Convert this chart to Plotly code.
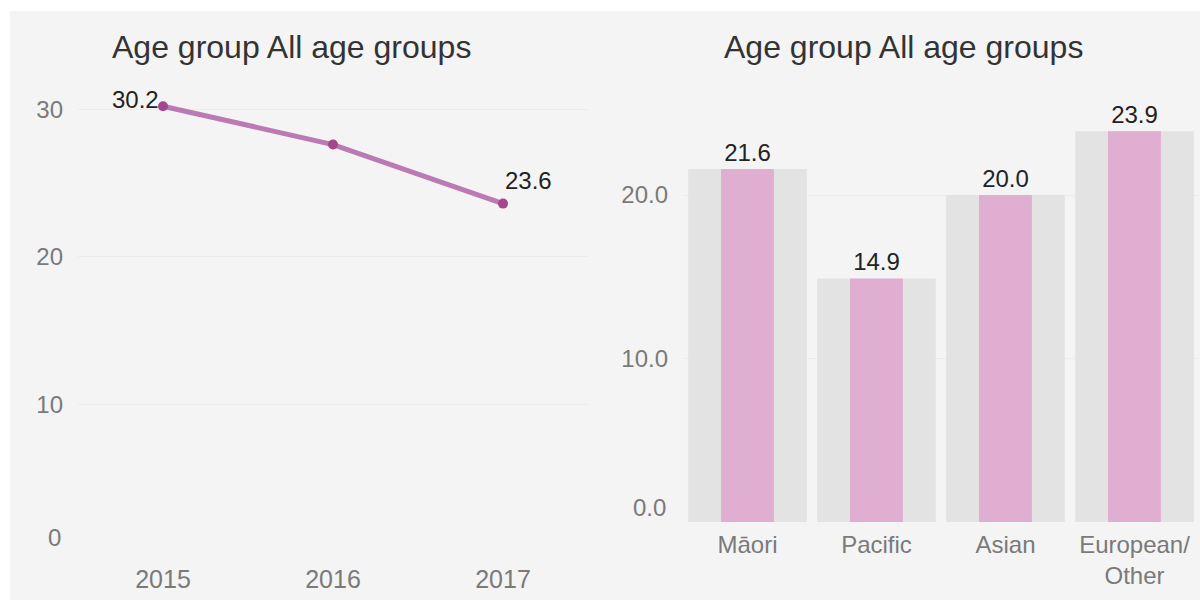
import plotly.graph_objects as go

W, H = 1200, 602

# ---- data ----
years = ["2015", "2016", "2017"]
rates = [30.2, 27.6, 23.6]
labelled_points = [0, 2]  # indices of points that carry a value label

groups = ["Māori", "Pacific", "Asian", "European/<br>Other"]
group_rates = [21.6, 14.9, 20.0, 23.9]

title_text = "Age group All age groups"
left_ticks = [10, 20, 30]
right_ticks = [10, 20]
right_ticktext = ["10.0", "20.0"]

FONT = "Liberation Sans, Arial, Helvetica, sans-serif"
TICK_COL = "#7a7a7a"
PINK = "#e0aed1"
GREYBAR = "#e3e3e3"
LINE_COL = "rgba(168,82,158,0.75)"
MARK_COL = "#a5468f"


def px_x(p):
    return p / W


def px_y(p):
    return 1 - p / H


fig = go.Figure()

fig.add_trace(go.Scatter(
    x=years, y=rates, mode="lines+markers",
    line=dict(color=LINE_COL, width=5),
    marker=dict(color=MARK_COL, size=10),
    xaxis="x", yaxis="y", cliponaxis=False, hoverinfo="skip",
))

fig.add_trace(go.Bar(
    x=groups, y=group_rates, width=0.92, marker=dict(color=GREYBAR, line=dict(width=0)),
    xaxis="x2", yaxis="y2", hoverinfo="skip",
))
fig.add_trace(go.Bar(
    x=groups, y=group_rates, width=0.41, marker=dict(color=PINK, line=dict(width=0)),
    text=[f"{v:.1f}" for v in group_rates], textposition="outside",
    textfont=dict(size=24, color="#222222", family=FONT),
    xaxis="x2", yaxis="y2", cliponaxis=False, hoverinfo="skip",
))

axis_common = dict(showline=False, zeroline=False, ticks="", fixedrange=True)

annotations = [
    dict(text=title_text, x=px_x(110), y=px_y(47), xref="paper", yref="paper",
         xanchor="left", yanchor="middle", showarrow=False,
         font=dict(size=32, color="#333333", family=FONT)),
    dict(text=title_text, x=px_x(722), y=px_y(47), xref="paper", yref="paper",
         xanchor="left", yanchor="middle", showarrow=False,
         font=dict(size=32, color="#333333", family=FONT)),
    dict(text="0", x=px_x(63), y=px_y(537), xref="paper", yref="paper",
         xanchor="right", yanchor="middle", showarrow=False,
         font=dict(size=24, color=TICK_COL, family=FONT)),
    dict(text="0.0", x=px_x(668), y=px_y(507), xref="paper", yref="paper",
         xanchor="right", yanchor="middle", showarrow=False,
         font=dict(size=24, color=TICK_COL, family=FONT)),
]

# value labels on the line (first to the left of the point, last to the right)
for k, i in enumerate(labelled_points):
    first = (k == 0)
    annotations.append(dict(
        text=f"{rates[i]:.1f}", x=i, y=rates[i], xref="x", yref="y",
        xanchor="right" if first else "left",
        yanchor="middle" if first else "bottom",
        xshift=-2 if first else 0, yshift=7 if first else 8,
        showarrow=False, font=dict(size=24, color="#222222", family=FONT)))

fig.update_layout(
    width=W, height=H,
    margin=dict(l=0, r=0, t=0, b=0),
    paper_bgcolor="#f4f4f4",
    plot_bgcolor="rgba(0,0,0,0)",
    showlegend=False,
    barmode="overlay",
    font=dict(family=FONT, color=TICK_COL),
    xaxis=dict(domain=[px_x(78), px_x(588)], range=[-0.5, 2.5], type="category",
               showgrid=False, tickfont=dict(size=25, color=TICK_COL),
               ticklabelstandoff=10, anchor="y", **axis_common),
    yaxis=dict(domain=[px_y(552), px_y(87)], range=[0, 31.5],
               tickvals=left_ticks, ticktext=[str(v) for v in left_ticks],
               showgrid=True, gridcolor="#ececec", gridwidth=1,
               tickfont=dict(size=24, color=TICK_COL), ticklabelstandoff=14,
               anchor="x", **axis_common),
    xaxis2=dict(domain=[px_x(683), px_x(1199)], range=[-0.5, 3.5], type="category",
                showgrid=False, tickfont=dict(size=24, color=TICK_COL),
                ticklabelstandoff=6, anchor="y2", **axis_common),
    yaxis2=dict(domain=[px_y(522), px_y(97)], range=[0, 26],
                tickvals=right_ticks, ticktext=right_ticktext,
                showgrid=True, gridcolor="#ececec", gridwidth=1,
                tickfont=dict(size=24, color=TICK_COL), ticklabelstandoff=14,
                anchor="x2", **axis_common),
    shapes=[
        dict(type="rect", xref="paper", yref="paper", x0=0, x1=1, y0=px_y(11), y1=1,
             fillcolor="white", line=dict(width=0), layer="above"),
        dict(type="rect", xref="paper", yref="paper", x0=0, x1=px_x(10), y0=0, y1=1,
             fillcolor="white", line=dict(width=0), layer="above"),
        dict(type="rect", xref="paper", yref="paper", x0=0, x1=1, y0=0, y1=px_y(600),
             fillcolor="white", line=dict(width=0), layer="above"),
    ],
    annotations=annotations,
)

fig.write_html("out.html", config=dict(displayModeBar=False, staticPlot=True),
               post_script="document.body.style.margin='0';document.body.style.overflow='hidden';")
